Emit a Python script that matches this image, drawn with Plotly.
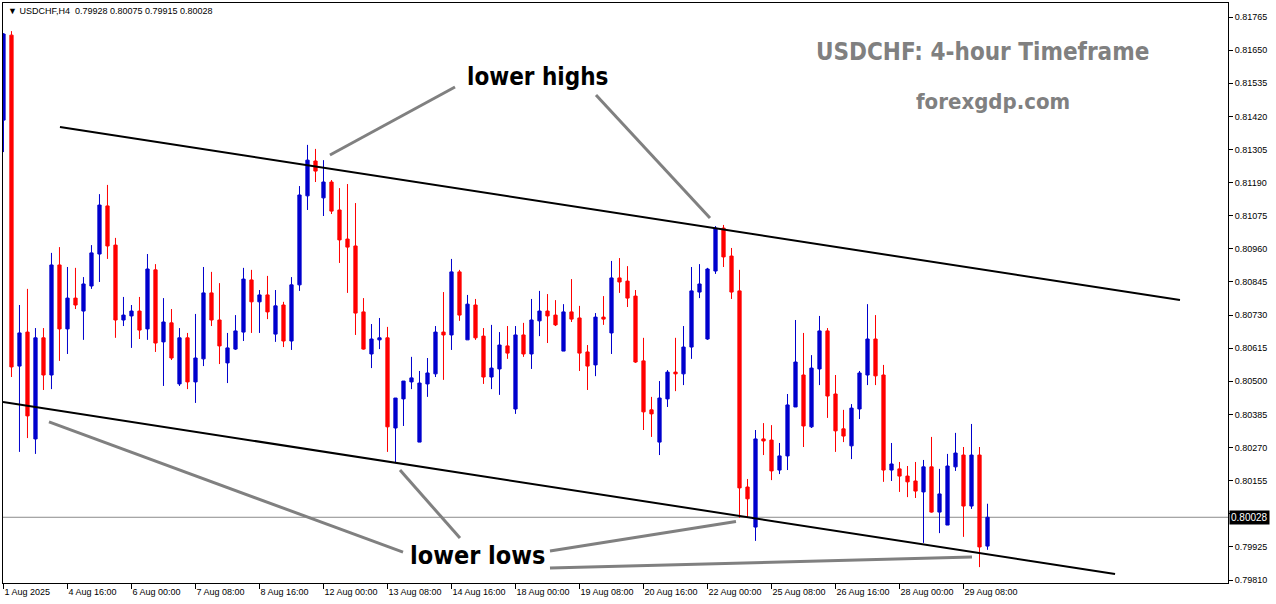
import plotly.graph_objects as go
from datetime import datetime, timedelta

# ---------------- data ----------------
opens = [0.81407, 0.81702, 0.80553, 0.80671, 0.80300, 0.80651, 0.80522, 0.80904, 0.80682, 0.80789,
         0.80744, 0.80831, 0.80942, 0.81109, 0.80973, 0.80713, 0.80727, 0.80744, 0.80682, 0.80887,
         0.80637, 0.80703, 0.80491, 0.80651, 0.80498, 0.80578, 0.80807, 0.80713, 0.80564, 0.80612,
         0.80671, 0.80852, 0.80776, 0.80800, 0.80664, 0.80765, 0.80640, 0.80835, 0.81144, 0.81265,
         0.81137, 0.81192, 0.81095, 0.80994, 0.80970, 0.80741, 0.80595, 0.80644, 0.80651, 0.80338,
         0.80439, 0.80498, 0.80289, 0.80491, 0.80526, 0.80671, 0.80661, 0.80880, 0.80644, 0.80765,
         0.80657, 0.80515, 0.80543, 0.80623, 0.80404, 0.80661, 0.80595, 0.80710, 0.80744, 0.80730,
         0.80605, 0.80741, 0.80720, 0.80602, 0.80557, 0.80723, 0.80668, 0.80859, 0.80848, 0.80796,
         0.80571, 0.80401, 0.80289, 0.80439, 0.80532, 0.80526, 0.80619, 0.80810, 0.80647, 0.80883,
         0.81032, 0.80935, 0.80814, 0.80133, 0.79994, 0.80300, 0.80296, 0.80192, 0.80241, 0.80411,
         0.80522, 0.80342, 0.80543, 0.80675, 0.80456, 0.80335, 0.80276, 0.80404, 0.80522, 0.80647,
         0.80522, 0.80192, 0.80196, 0.80171, 0.80154, 0.80116, 0.80203, 0.80046, 0.80001, 0.80203,
         0.80244, 0.80067, 0.80244, 0.79928]
highs = [0.81709, 0.81716, 0.80765, 0.80821, 0.80685, 0.80685, 0.80946, 0.80966, 0.80897, 0.80894,
         0.80862, 0.80973, 0.81150, 0.81182, 0.80998, 0.80793, 0.80765, 0.80793, 0.80942, 0.80907,
         0.80789, 0.80751, 0.80685, 0.80668, 0.80734, 0.80897, 0.80880, 0.80841, 0.80668, 0.80730,
         0.80894, 0.80887, 0.80817, 0.80866, 0.80817, 0.80776, 0.80862, 0.81178, 0.81321, 0.81307,
         0.81268, 0.81199, 0.81171, 0.81185, 0.81119, 0.80789, 0.80699, 0.80720, 0.80689, 0.80442,
         0.80501, 0.80585, 0.80536, 0.80581, 0.80692, 0.80810, 0.80925, 0.80887, 0.80800, 0.80786,
         0.80685, 0.80696, 0.80671, 0.80692, 0.80692, 0.80703, 0.80786, 0.80814, 0.80803, 0.80782,
         0.80768, 0.80855, 0.80762, 0.80626, 0.80737, 0.80796, 0.80918, 0.80928, 0.80900, 0.80817,
         0.80651, 0.80446, 0.80501, 0.80539, 0.80651, 0.80692, 0.80897, 0.80907, 0.80894, 0.81039,
         0.81043, 0.80963, 0.80887, 0.80161, 0.80331, 0.80355, 0.80348, 0.80286, 0.80456, 0.80713,
         0.80668, 0.80591, 0.80727, 0.80685, 0.80522, 0.80401, 0.80421, 0.80536, 0.80768, 0.80730,
         0.80557, 0.80286, 0.80220, 0.80206, 0.80220, 0.80227, 0.80307, 0.80196, 0.80248, 0.80321,
         0.80272, 0.80352, 0.80272, 0.80075]
lows = [0.81296, 0.80515, 0.80255, 0.80303, 0.80248, 0.80470, 0.80473, 0.80571, 0.80595, 0.80751,
        0.80644, 0.80821, 0.80845, 0.80925, 0.80651, 0.80692, 0.80616, 0.80647, 0.80644, 0.80602,
        0.80484, 0.80574, 0.80484, 0.80473, 0.80425, 0.80553, 0.80692, 0.80560, 0.80494, 0.80609,
        0.80640, 0.80668, 0.80668, 0.80716, 0.80637, 0.80619, 0.80609, 0.80814, 0.81095, 0.81192,
        0.81074, 0.81081, 0.80911, 0.80807, 0.80661, 0.80610, 0.80546, 0.80612, 0.80255, 0.80217,
        0.80345, 0.80473, 0.80289, 0.80446, 0.80515, 0.80505, 0.80609, 0.80710, 0.80644, 0.80644,
        0.80491, 0.80473, 0.80453, 0.80578, 0.80387, 0.80585, 0.80543, 0.80657, 0.80633, 0.80692,
        0.80605, 0.80706, 0.80536, 0.80470, 0.80518, 0.80696, 0.80595, 0.80807, 0.80758, 0.80564,
        0.80331, 0.80307, 0.80244, 0.80411, 0.80466, 0.80487, 0.80578, 0.80789, 0.80644, 0.80873,
        0.80897, 0.80786, 0.80026, 0.80029, 0.79946, 0.80244, 0.80157, 0.80178, 0.80192, 0.80411,
        0.80272, 0.80338, 0.80487, 0.80373, 0.80255, 0.80289, 0.80230, 0.80369, 0.80487, 0.80487,
        0.80151, 0.80154, 0.80116, 0.80098, 0.80095, 0.79939, 0.80044, 0.79973, 0.80001, 0.80189,
        0.79960, 0.80057, 0.79855, 0.79915]
closes = [0.81706, 0.80550, 0.80668, 0.80380, 0.80651, 0.80522, 0.80904, 0.80682, 0.80789, 0.80765,
          0.80838, 0.80946, 0.81112, 0.80970, 0.80713, 0.80730, 0.80744, 0.80678, 0.80890, 0.80633,
          0.80706, 0.80581, 0.80651, 0.80498, 0.80581, 0.80807, 0.80713, 0.80623, 0.80616, 0.80675,
          0.80855, 0.80776, 0.80800, 0.80741, 0.80762, 0.80640, 0.80835, 0.81147, 0.81268, 0.81230,
          0.81192, 0.81091, 0.80991, 0.80966, 0.80737, 0.80612, 0.80647, 0.80651, 0.80342, 0.80442,
          0.80501, 0.80512, 0.80494, 0.80529, 0.80671, 0.80661, 0.80880, 0.80730, 0.80768, 0.80651,
          0.80515, 0.80546, 0.80626, 0.80598, 0.80661, 0.80595, 0.80713, 0.80744, 0.80727, 0.80696,
          0.80741, 0.80716, 0.80598, 0.80553, 0.80723, 0.80716, 0.80859, 0.80845, 0.80789, 0.80567,
          0.80394, 0.80387, 0.80442, 0.80532, 0.80526, 0.80619, 0.80814, 0.80838, 0.80890, 0.81032,
          0.80932, 0.80810, 0.80130, 0.80092, 0.80300, 0.80293, 0.80189, 0.80241, 0.80418, 0.80567,
          0.80345, 0.80546, 0.80675, 0.80449, 0.80328, 0.80310, 0.80407, 0.80529, 0.80647, 0.80519,
          0.80192, 0.80213, 0.80171, 0.80151, 0.80119, 0.80203, 0.80046, 0.80109, 0.80206, 0.80251,
          0.80067, 0.80244, 0.79925, 0.80028]

price_ticks = [0.79810, 0.79925, 0.80040, 0.80155, 0.80270, 0.80385, 0.80500, 0.80615, 0.80730,
               0.80845, 0.80960, 0.81075, 0.81190, 0.81305, 0.81420, 0.81535, 0.81650, 0.81765]
time_tick_labels = ["1 Aug 2025", "4 Aug 16:00", "6 Aug 00:00", "7 Aug 08:00", "8 Aug 16:00",
                    "12 Aug 00:00", "13 Aug 08:00", "14 Aug 16:00", "18 Aug 00:00", "19 Aug 08:00",
                    "20 Aug 16:00", "22 Aug 00:00", "25 Aug 08:00", "26 Aug 16:00", "28 Aug 00:00",
                    "29 Aug 08:00"]
last_price = 0.80028

# channel lines (bar index, price)
upper_channel = [(7.06, 0.81383), (147.06, 0.80782)]
lower_channel = [(-0.06, 0.80428), (138.94, 0.79831)]
# grey pointer lines (bar index, price)
pointers = [
    [(40.81, 0.81286), (56.44, 0.81522)],
    [(74.06, 0.81494), (88.31, 0.81067)],
    [(5.69, 0.80359), (49.94, 0.79907)],
    [(49.56, 0.80192), (57.06, 0.79956)],
    [(68.31, 0.79911), (91.56, 0.80013)],
    [(68.31, 0.79852), (121.06, 0.79890)],
]

# H4 trading bars (weekends skipped) from 1 Aug 2025 08:00
bar_times = []
t = datetime(2025, 8, 1, 8)
while len(bar_times) < len(opens):
    if t.weekday() < 5:
        bar_times.append(t)
    t += timedelta(hours=4)
x_idx = list(range(len(bar_times)))
tick_idx = list(range(0, len(bar_times), 8))

BLUE = "#0000CD"
RED = "#FF0000"
AXFONT = dict(family="Liberation Sans, Arial, sans-serif", size=9, color="black")
LABFONT = "Liberation Sans Narrow, DejaVu Sans Condensed, Arial Narrow, sans-serif"

fig = go.Figure(go.Candlestick(
    x=x_idx, open=opens, high=highs, low=lows, close=closes,
    increasing=dict(line=dict(color=BLUE, width=1), fillcolor=BLUE),
    decreasing=dict(line=dict(color=RED, width=1), fillcolor=RED),
    whiskerwidth=0, hoverinfo="skip",
))

shapes = []
for (x0, y0), (x1, y1) in [upper_channel, lower_channel]:
    shapes.append(dict(type="line", xref="x", yref="y", x0=x0, y0=y0, x1=x1, y1=y1,
                       line=dict(color="black", width=2)))
for (x0, y0), (x1, y1) in pointers:
    shapes.append(dict(type="line", xref="x", yref="y", x0=x0, y0=y0, x1=x1, y1=y1,
                       line=dict(color="#808080", width=3)))
shapes.append(dict(type="line", xref="paper", yref="y", x0=0, x1=1, y0=last_price, y1=last_price,
                   line=dict(color="#8c8c8c", width=1), layer="below"))

annotations = [
    dict(xref="paper", yref="paper", x=0, y=1, xanchor="left", yanchor="top", xshift=3, yshift=-1,
         text="\u25bc USDCHF,H4  0.79928 0.80075 0.79915 0.80028", showarrow=False, font=AXFONT),
    dict(xref="paper", yref="paper", x=0.7992, y=0.9155, xanchor="center", yanchor="middle",
         text="<b>USDCHF: 4-hour Timeframe</b>", showarrow=False,
         font=dict(family=LABFONT, size=24, color="#808080")),
    dict(xref="paper", yref="paper", x=0.8082, y=0.831, xanchor="center", yanchor="middle",
         text="<b>forexgdp.com</b>", showarrow=False,
         font=dict(family=LABFONT, size=22, color="#808080")),
    dict(xref="x", yref="y", x=66.81, y=0.81557, xanchor="center", yanchor="middle",
         text="<b>lower highs</b>", showarrow=False,
         font=dict(family=LABFONT, size=24, color="black")),
    dict(xref="x", yref="y", x=59.31, y=0.79894, xanchor="center", yanchor="middle",
         text="<b>lower lows</b>", showarrow=False,
         font=dict(family=LABFONT, size=25, color="black")),
    dict(xref="paper", yref="y", x=1, y=last_price, xanchor="left", yanchor="middle", xshift=1,
         text="0.80028", showarrow=False, bgcolor="black", borderpad=1,
         font=dict(family="Liberation Sans, Arial, sans-serif", size=10, color="white")),
]

fig.update_layout(
    width=1276, height=604,
    margin=dict(l=3, r=48, t=3, b=21),
    paper_bgcolor="white", plot_bgcolor="white",
    showlegend=False, boxgap=0.42,
    shapes=shapes, annotations=annotations,
)
fig.update_xaxes(
    range=[-0.06, 153.06], tickmode="array", tickvals=tick_idx, ticktext=time_tick_labels,
    ticks="outside", ticklen=5, tickcolor="black", tickwidth=1,
    ticklabelposition="outside right", tickfont=AXFONT,
    showline=True, linecolor="black", linewidth=1, mirror=True,
    showgrid=False, zeroline=False, rangeslider_visible=False,
)
fig.update_yaxes(
    side="right", range=[0.797998, 0.818136], tickmode="array", tickvals=price_ticks,
    ticktext=[f"{v:.5f}" for v in price_ticks],
    ticks="outside", ticklen=4, tickcolor="black", tickwidth=1, tickfont=AXFONT,
    showline=True, linecolor="black", linewidth=1, mirror=True,
    showgrid=False, zeroline=False,
)

fig.write_html("out.html", config={"displayModeBar": False},
               post_script="document.body.style.margin='0';document.body.style.overflow='hidden';")
